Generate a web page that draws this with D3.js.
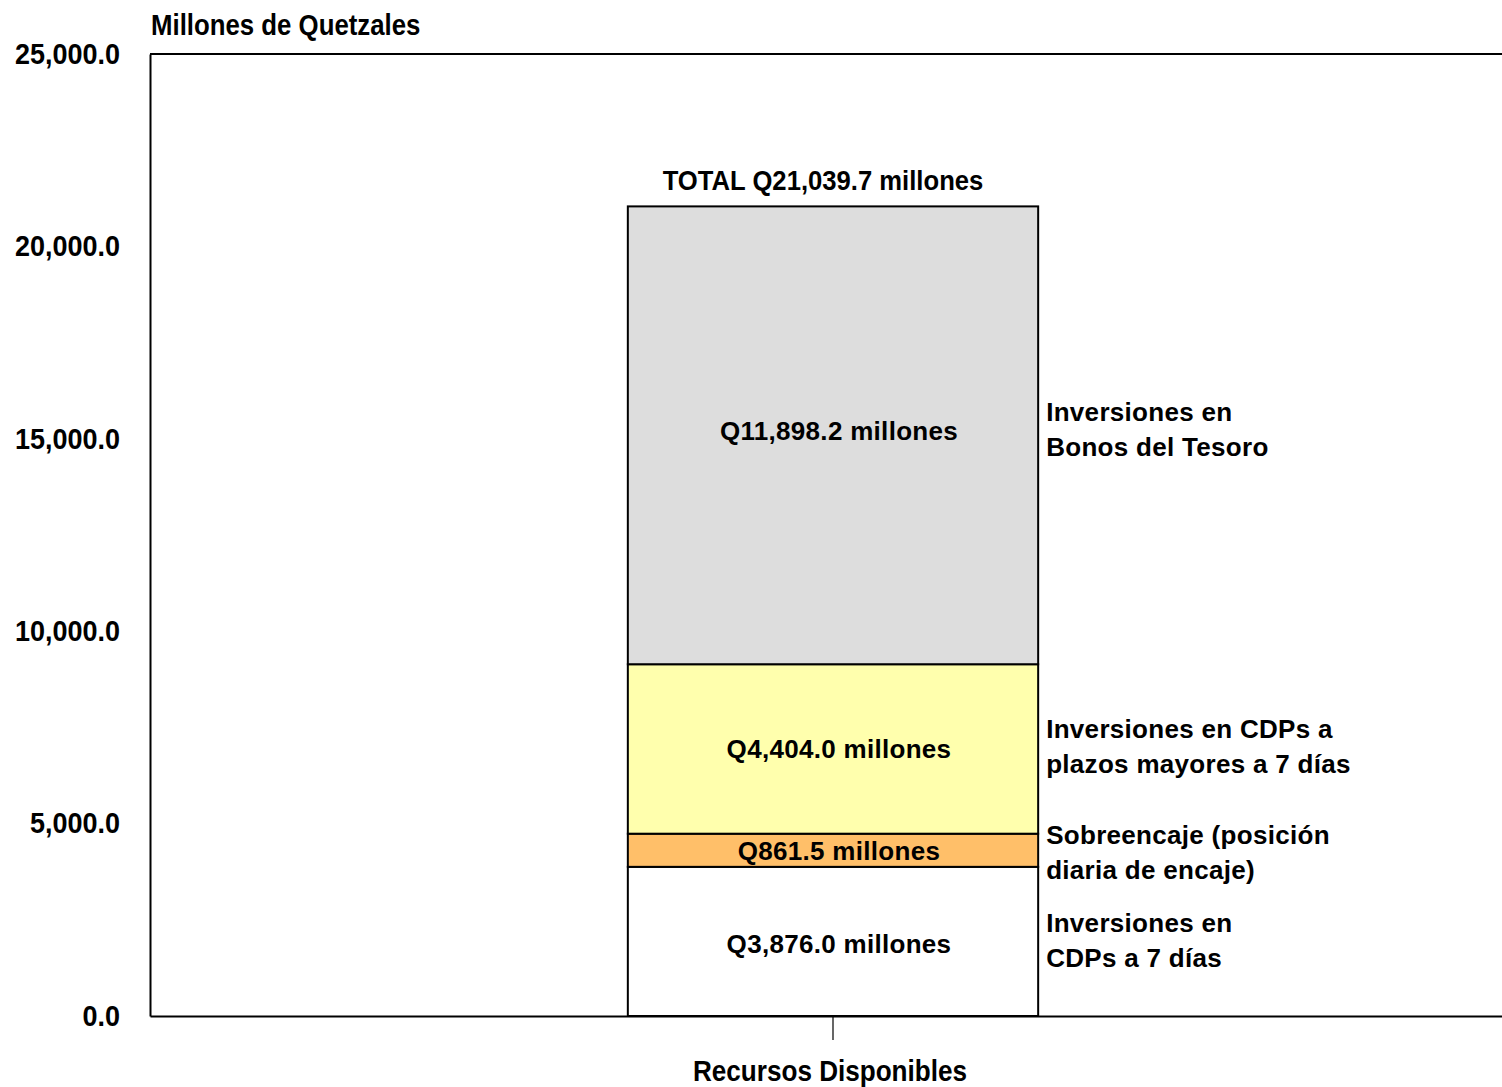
<!DOCTYPE html>
<html>
<head>
<meta charset="utf-8">
<script src="https://cdn.jsdelivr.net/npm/d3@7"></script>
<style>
  html, body { margin: 0; padding: 0; background: #fff; }
  svg { display: block; }
  text { font-family: "Liberation Sans", Arial, sans-serif; font-weight: bold; fill: #000; }
</style>
</head>
<body>
<script>
// Recursos disponibles, millones de quetzales
const categories = ["Recursos Disponibles"];
const segmentNames = [
  ["Inversiones en", "CDPs a 7 días"],
  ["Sobreencaje (posición", "diaria de encaje)"],
  ["Inversiones en CDPs a", "plazos mayores a 7 días"],
  ["Inversiones en", "Bonos del Tesoro"]
];
const segmentValues = [3876.0, 861.5, 4404.0, 11898.2];
const yTicks = [0, 5000, 10000, 15000, 20000, 25000];
const yTitle = "Millones de Quetzales";

const fills = ["#ffffff", "#ffbf69", "#ffffad", "#dddddd"];

const W = 1502, H = 1087;
const plot = { left: 150, top: 54, right: 1516, bottom: 1016 };

const svg = d3.select("body").append("svg").attr("width", W).attr("height", H);

const y = d3.scaleLinear().domain([0, 25000]).range([plot.bottom, plot.top]);
const x = d3.scaleBand().domain(categories).range([plot.left, plot.right]).padding(0.538);

// stacked segments
const stacked = [];
let acc = 0;
segmentValues.forEach((v, i) => {
  stacked.push({ y0: acc, y1: acc + v, v, i, name: segmentNames[i] });
  acc += v;
});
const total = acc;
const fmt = d3.format(",.1f");

// horizontally condensed text placed at (px, py)
function narrowText(parent, px, py, str, size, sx, anchor) {
  const g = parent.append("g").attr("transform", `translate(${px},${py})`);
  return g.append("text")
    .attr("transform", `scale(${sx},1)`)
    .attr("dy", "0.35em")
    .attr("text-anchor", anchor || "start")
    .style("font-size", size + "px")
    .text(str);
}

// frame
svg.append("line").attr("x1", plot.left).attr("x2", W).attr("y1", plot.top).attr("y2", plot.top)
  .attr("stroke", "#000").attr("stroke-width", 2);

const xPos = x(categories[0]);
const bw = x.bandwidth();

const seg = svg.append("g");
seg.selectAll("rect").data(stacked).enter().append("rect")
  .attr("x", xPos)
  .attr("width", bw)
  .attr("y", d => y(d.y1))
  .attr("height", d => y(d.y0) - y(d.y1))
  .attr("fill", (d) => fills[d.i])
  .attr("stroke", "#000")
  .attr("stroke-width", 2);

// value labels inside the segments
const valNudge = [2, 1, 0, -4];
seg.selectAll("text.val").data(stacked).enter().append("text")
  .attr("class", "val")
  .attr("x", xPos + bw / 2 + 6)
  .attr("y", d => (y(d.y0) + y(d.y1)) / 2 + valNudge[d.i])
  .attr("dy", "0.35em")
  .attr("text-anchor", "middle")
  .style("font-size", "26px")
  .style("letter-spacing", "0.3px")
  .text(d => "Q" + fmt(d.v) + " millones");

// segment names to the right of the bar
const nameY = [940, 852, 746, 429];
stacked.forEach((d, i) => {
  const t = svg.append("text")
    .attr("x", xPos + bw + 8)
    .attr("y", nameY[i])
    .style("font-size", "26px")
    .style("letter-spacing", "0.3px");
  d.name.forEach((line, k) => {
    t.append("tspan").attr("x", xPos + bw + 8)
      .attr("y", nameY[i] + (k - 0.5) * 35)
      .attr("dy", "0.35em")
      .text(line);
  });
});

// total label
narrowText(svg, xPos + bw / 2 - 10, y(total) - 26, "TOTAL Q" + fmt(total) + " millones", 27, 0.95, "middle");

// y axis
const ySx = 0.93;
const yAxis = svg.append("g").attr("transform", `translate(${plot.left},0)`)
  .call(d3.axisLeft(y).tickValues(yTicks).tickFormat(fmt).tickSize(0).tickPadding(30 / ySx));
yAxis.select(".domain").attr("stroke", "#000").attr("stroke-width", 2);
yAxis.selectAll("text")
  .attr("transform", `scale(${ySx},1)`)
  .style("font-size", "29px").style("font-family", "Liberation Sans, Arial, sans-serif")
  .style("font-weight", "bold").attr("fill", "#000");

// x axis
const xAxis = svg.append("g").attr("transform", `translate(0,${plot.bottom})`)
  .call(d3.axisBottom(x).tickSizeInner(24).tickSizeOuter(0).tickPadding(20));
xAxis.select(".domain").attr("stroke", "#000").attr("stroke-width", 2);
xAxis.selectAll(".tick line").attr("stroke", "#000").attr("stroke-width", 1.2);
xAxis.selectAll("text").remove();
narrowText(svg, x(categories[0]) + bw / 2 - 3, 1071, categories[0], 29, 0.9, "middle");

// y axis title
narrowText(svg, 151, 24, yTitle, 30, 0.86, "start");
</script>
</body>
</html>
